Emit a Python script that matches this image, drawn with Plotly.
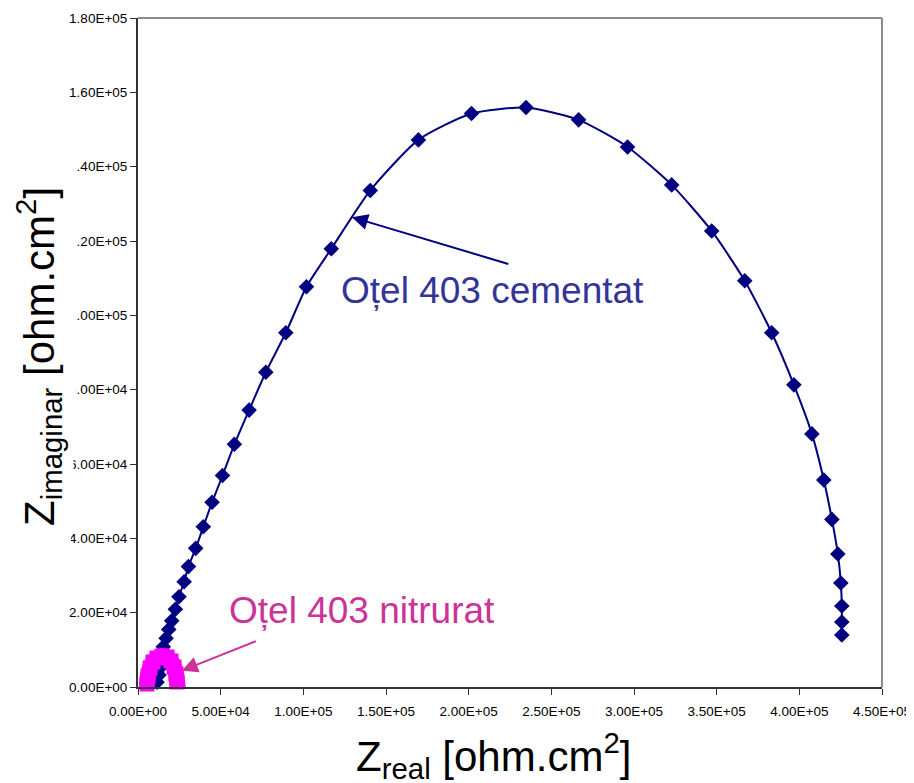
import plotly.graph_objects as go

# ---- data ----
cementat_zreal = [10300, 11500, 12700, 13900, 14500, 14800, 15300, 17000, 18600, 20400,
                  22600, 24800, 27900, 30500, 34900, 39500, 44800, 51100, 58300, 67200,
                  77300, 89400, 101900, 116900, 140500, 169600, 201700, 234700, 266500,
                  296100, 322800, 347000, 367000, 383300, 396700, 407600, 414800, 419700,
                  423300, 425100, 425700, 425700, 425700]
cementat_zimag = [-800, 1300, 3200, 5400, 7500, 9400, 10800, 13100, 15500, 17800,
                  20900, 24300, 28300, 32400, 37300, 43100, 49700, 56900, 65300, 74500,
                  84700, 95300, 107700, 117900, 133600, 147200, 154300, 155900, 152600,
                  145300, 135100, 122700, 109300, 95300, 81300, 68100, 55700, 45100,
                  35800, 28000, 21800, 17500, 14000]

nitrurat_zreal = [5450, 5450, 6060, 7270, 9080, 11500, 14500, 17560, 19990, 21800, 23010, 23620, 24220]
nitrurat_zimag = [-1350, 800, 2960, 5110, 6730, 7800, 8340, 8070, 7000, 5380, 3500, 1350, -800]

x_tickvals = [0, 50000, 100000, 150000, 200000, 250000, 300000, 350000, 400000, 450000]
x_ticktext = ["0.00E+00", "5.00E+04", "1.00E+05", "1.50E+05", "2.00E+05",
              "2.50E+05", "3.00E+05", "3.50E+05", "4.00E+05", "4.50E+05"]
y_tickvals = [0, 20000, 40000, 60000, 80000, 100000, 120000, 140000, 160000, 180000]
y_ticktext = ["0.00E+00", "2.00E+04", "4.00E+04", "6.00E+04", "8.00E+04",
              "1.00E+05", "1.20E+05", "1.40E+05", "1.60E+05", "1.80E+05"]

label_cementat = "Oțel 403 cementat"
label_nitrurat = "Oțel 403 nitrurat"

NAVY = "#000080"
INDIGO = "#333399"
MAGENTA = "#FF00FF"
PINK = "#CC3399"
FONT = "Liberation Sans, Arial, sans-serif"

# plot area in page pixels (page body has an 8px margin)
PL, PR, PT, PB = 138, 882, 18, 687
OFF = 8
W, H = 914 - OFF, 783 - OFF


def px_x(p):
    return (p - PL) / (PR - PL)


def px_y(p):
    return (PB - p) / (PB - PT)


fig = go.Figure()
fig.add_trace(go.Scatter(
    x=cementat_zreal, y=cementat_zimag, mode="lines+markers",
    line=dict(color=NAVY, width=2, shape="spline", smoothing=0.6),
    marker=dict(symbol="diamond", size=12, color=NAVY),
    cliponaxis=False, showlegend=False))
fig.add_trace(go.Scatter(
    x=nitrurat_zreal, y=nitrurat_zimag, mode="lines+markers",
    line=dict(color=MAGENTA, width=16, shape="spline"),
    marker=dict(symbol="square", size=15, color=MAGENTA),
    cliponaxis=False, showlegend=False))

annotations = [
    # arrows
    dict(x=129400, y=126400, ax=224900, ay=113700, xref="x", yref="y", axref="x", ayref="y",
         showarrow=True, arrowhead=2, arrowsize=1.6, arrowwidth=2, arrowcolor=NAVY, text=""),
    dict(x=26500, y=4390, ax=72200, ay=12460, xref="x", yref="y", axref="x", ayref="y",
         showarrow=True, arrowhead=2, arrowsize=1.6, arrowwidth=2, arrowcolor=PINK, text=""),
    # labels
    dict(x=214400, y=106800, xref="x", yref="y", text=label_cementat, showarrow=False,
         font=dict(family=FONT, size=37, color=INDIGO), xanchor="center", yanchor="middle"),
    dict(x=135400, y=20700, xref="x", yref="y", text=label_nitrurat, showarrow=False,
         font=dict(family=FONT, size=37, color=PINK), xanchor="center", yanchor="middle"),
    # axis titles
    dict(x=px_x(493), y=px_y(755), xref="paper", yref="paper",
         text="Z<sub>real</sub> [ohm.cm<sup>2</sup>]", showarrow=False,
         font=dict(family=FONT, size=42, color="black"), xanchor="center", yanchor="middle"),
    dict(x=px_x(38), y=px_y(357), xref="paper", yref="paper",
         text="Z<sub>imaginar</sub> [ohm.cm<sup>2</sup>]", showarrow=False, textangle=-90,
         font=dict(family=FONT, size=42, color="black"), xanchor="center", yanchor="middle"),
]

# white box of the y-axis title, which hides the left edge of some tick labels
cover = [(150, 420, 76), (420, 500, 73.5), (500, 545, 71)]
shapes = [
    dict(type="line", xref="paper", yref="paper", x0=0, x1=1, y0=1, y1=1,
         line=dict(color="#8c8c8c", width=2)),
    dict(type="line", xref="paper", yref="paper", x0=1, x1=1, y0=0, y1=1,
         line=dict(color="#8c8c8c", width=2)),
]
for top, bottom, right in cover:
    shapes.append(dict(type="rect", xref="paper", yref="paper", layer="above",
                       x0=px_x(0), x1=px_x(right), y0=px_y(bottom), y1=px_y(top),
                       fillcolor="white", line=dict(width=0)))

fig.update_layout(
    width=W, height=H,
    margin=dict(l=PL - OFF, r=W - (PR - OFF), t=PT - OFF, b=H - (PB - OFF), autoexpand=False),
    paper_bgcolor="white", plot_bgcolor="white",
    annotations=annotations,
    shapes=shapes,
    xaxis=dict(range=[0, 450000], tickvals=x_tickvals, ticktext=x_ticktext, automargin=False,
               showgrid=False, zeroline=False, showline=True, linecolor="#333333", linewidth=2,
               ticks="outside", ticklen=6, tickwidth=1, tickcolor="#333333",
               ticklabelstandoff=5,
               tickfont=dict(family=FONT, size=13.5, color="black")),
    yaxis=dict(range=[0, 180000], tickvals=y_tickvals, ticktext=y_ticktext, automargin=False,
               showgrid=False, zeroline=False, showline=True, linecolor="#333333", linewidth=2,
               ticks="outside", ticklen=6, tickwidth=1, tickcolor="#333333",
               tickfont=dict(family=FONT, size=13.5, color="black")),
)

fig.write_html("out.html")
